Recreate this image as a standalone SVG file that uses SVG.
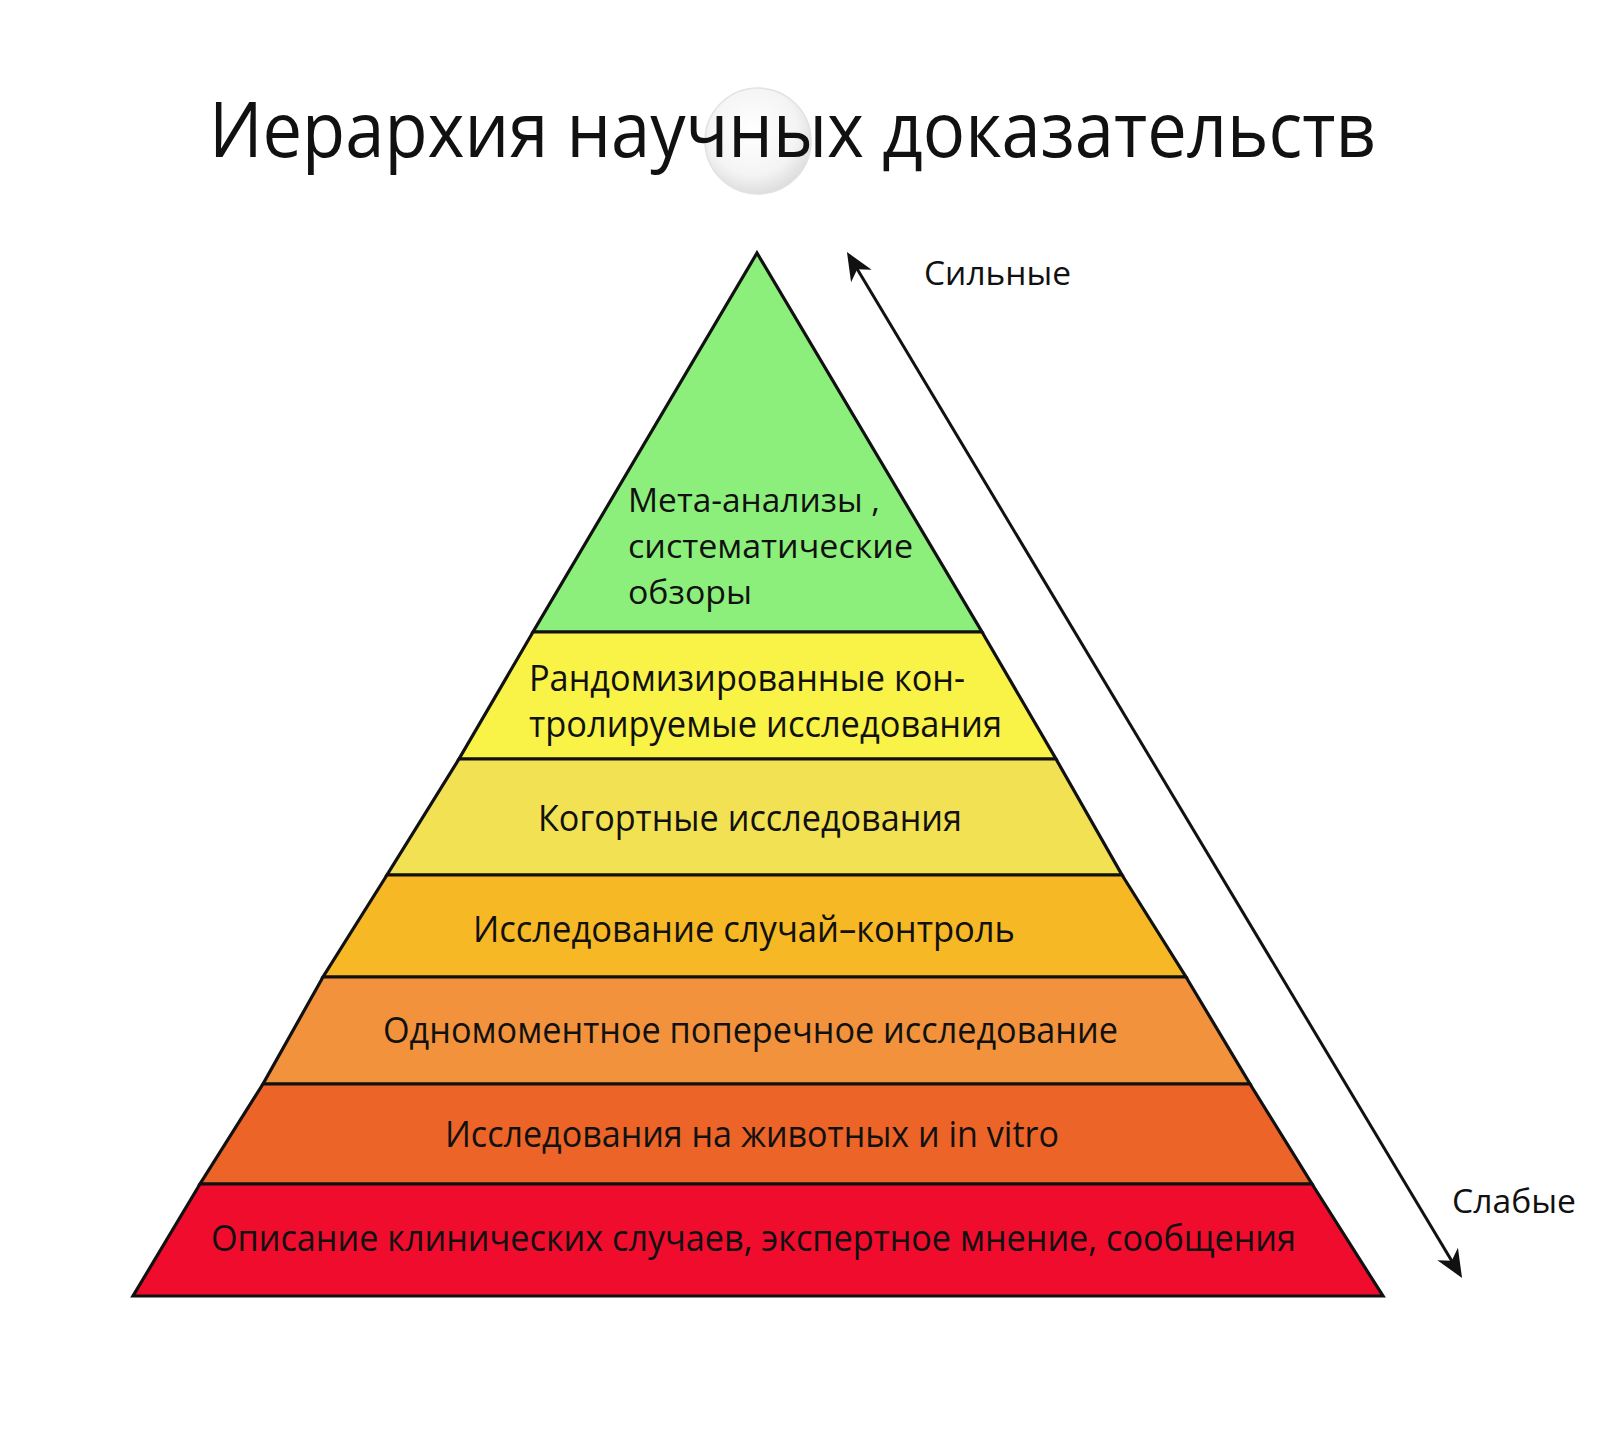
<svg xmlns="http://www.w3.org/2000/svg" width="1600" height="1445" viewBox="0 0 1600 1445">
  <style>
    .layer { stroke: #111; stroke-width: 3.2; stroke-linejoin: miter; }
    .lbl { font-family: "Open Sans", "Noto Sans", "DejaVu Sans", sans-serif; font-size: 37px; fill: #111; }
    .meta { font-family: "Open Sans", "Noto Sans", "DejaVu Sans", sans-serif; font-size: 33px; fill: #111; }
    .side { font-family: "Open Sans", "Noto Sans", "DejaVu Sans", sans-serif; font-size: 33px; fill: #111; }
    .title { font-family: "Open Sans", "Noto Sans", "DejaVu Sans", sans-serif; font-size: 76px; fill: #111; }
    .conn { stroke: #111; stroke-width: 3; fill: none; }
  </style>
  <defs>
    <marker id="ah" viewBox="-20 -14 34 28" markerWidth="34" markerHeight="28" refX="0" refY="0" orient="auto-start-reverse" markerUnits="userSpaceOnUse">
      <path d="M10,0 L-18,-12 L-10,0 L-18,12 Z" fill="#111"/>
    </marker>
    <radialGradient id="wm" cx="0.45" cy="0.4" r="0.6">
      <stop offset="0" stop-color="#ffffff" stop-opacity="1"/>
      <stop offset="0.7" stop-color="#f4f4f4" stop-opacity="1"/>
      <stop offset="1" stop-color="#dedede" stop-opacity="1"/>
    </radialGradient>
  </defs>
  <rect width="1600" height="1445" fill="#ffffff"/>

  <g id="title">
    <circle cx="758" cy="141" r="53" fill="url(#wm)" stroke="#e2e2e2" stroke-width="1.5"/>
    <text class="title" x="209" y="157" textLength="1167" lengthAdjust="spacingAndGlyphs">Иерархия научных доказательств</text>
  </g>

  <g id="layer-meta">
    <polygon class="layer" fill="#8DEF7B" points="757,253 982,632 533,632"/>
    <text class="meta" x="628" y="512" textLength="252" lengthAdjust="spacingAndGlyphs">Мета-анализы ,</text>
    <text class="meta" x="628" y="558" textLength="285" lengthAdjust="spacingAndGlyphs">систематические</text>
    <text class="meta" x="628" y="604" textLength="124" lengthAdjust="spacingAndGlyphs">обзоры</text>
  </g>

  <g id="layer-rct">
    <polygon class="layer" fill="#F9F247" points="533,632 982,632 1056,759 459,759"/>
    <text class="lbl" x="529" y="691" textLength="436" lengthAdjust="spacingAndGlyphs">Рандомизированные кон-</text>
    <text class="lbl" x="529" y="737" textLength="473" lengthAdjust="spacingAndGlyphs">тролируемые исследования</text>
  </g>

  <g id="layer-cohort">
    <polygon class="layer" fill="#F2E253" points="459,759 1056,759 1122,875 387,875"/>
    <text class="lbl" x="538" y="831" textLength="424" lengthAdjust="spacingAndGlyphs">Когортные исследования</text>
  </g>

  <g id="layer-case-control">
    <polygon class="layer" fill="#F6B825" points="387,875 1122,875 1186,977 323,977"/>
    <text class="lbl" x="473" y="942" textLength="542" lengthAdjust="spacingAndGlyphs">Исследование случай–контроль</text>
  </g>

  <g id="layer-cross-sectional">
    <polygon class="layer" fill="#F2923C" points="323,977 1186,977 1250,1084 263,1084"/>
    <text class="lbl" x="383" y="1043" textLength="735" lengthAdjust="spacingAndGlyphs">Одномоментное поперечное исследование</text>
  </g>

  <g id="layer-animal">
    <polygon class="layer" fill="#EC6427" points="263,1084 1250,1084 1312,1184 200,1184"/>
    <text class="lbl" x="445" y="1147" textLength="614" lengthAdjust="spacingAndGlyphs">Исследования на животных и in vitro</text>
  </g>

  <g id="layer-case-reports">
    <polygon class="layer" fill="#F00C2D" points="200,1184 1312,1184 1383,1296 133,1296"/>
    <text class="lbl" x="211" y="1251" textLength="1085" lengthAdjust="spacingAndGlyphs">Описание клинических случаев, экспертное мнение, сообщения</text>
  </g>

  <g id="connectors">
    <line class="conn" x1="1456.9" y1="1269.4" x2="852.1" y2="260.6" marker-start="url(#ah)" marker-end="url(#ah)"/>
  </g>

  <g id="label-strong">
    <text class="side" x="924" y="285" textLength="147" lengthAdjust="spacingAndGlyphs">Сильные</text>
  </g>
  <g id="label-weak">
    <text class="side" x="1452" y="1213" textLength="124" lengthAdjust="spacingAndGlyphs">Слабые</text>
  </g>
</svg>
